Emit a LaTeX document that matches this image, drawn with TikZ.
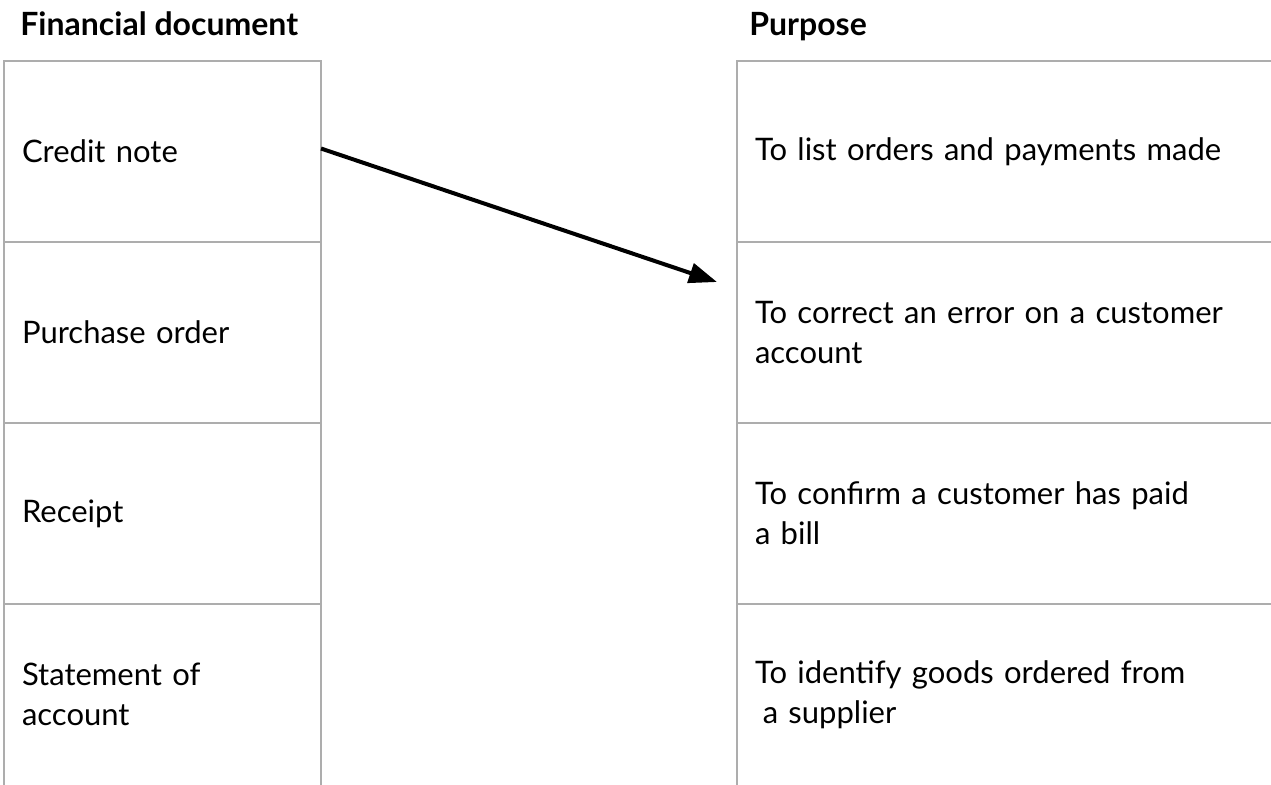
\documentclass[tikz,border=0pt]{standalone}
\usepackage{fontspec}
\setmainfont{Lato}
\usetikzlibrary{arrows.meta}

\begin{document}
\begin{tikzpicture}[x=0.5pt, y=-0.5pt,
  cell/.style={draw=black!32, line width=1.4pt, rectangle, anchor=north west,
    outer sep=0pt, inner xsep=9pt, minimum height=90.5pt, align=left,
    font=\fontsize{15.5}{20}\selectfont},
  left cell/.style={cell, text width=140.5pt},
  right cell/.style={cell, text width=252pt},
  open cell/.style={draw=none},
  heading/.style={anchor=base west, inner sep=0pt, font=\fontsize{16}{20}\selectfont\bfseries}]

\clip (0,0) rectangle (1271,784);

\node[heading] (1) at (20,35) {Financial document};
\node[heading] (2) at (749,35) {Purpose};

\node[left cell] (3) at (4,61) {Credit note};
\node[left cell] (4) at (4,242) {Purchase order};
\node[left cell] (5) at (4,423) {Receipt};
\node[left cell, open cell] (6) at (4,604) {Statement of\\account};

\node[right cell] (7) at (737,61) {To list orders and payments made};
\node[right cell] (8) at (737,242) {To correct an error on a customer\\account};
\node[right cell] (9) at (737,423) {To confirm a customer has paid\\a bill};
\node[right cell, open cell] (10) at (737,604) {To identify goods ordered from\\\hspace*{0.25em}a supplier};

% last row has no bottom line
\draw[black!32, line width=1.4pt] ([yshift=-5pt]6.south west) -- (6.north west) -- (6.north east) -- ([yshift=-5pt]6.south east);
\draw[black!32, line width=1.4pt] ([yshift=-5pt]10.south west) -- (10.north west) -- (10.north east);

\coordinate (tip) at (717,282);
\draw[line width=2pt, -{Triangle[length=14pt, width=10pt]}] ([yshift=1.5pt]3.east) -- (tip);

\end{tikzpicture}
\end{document}
